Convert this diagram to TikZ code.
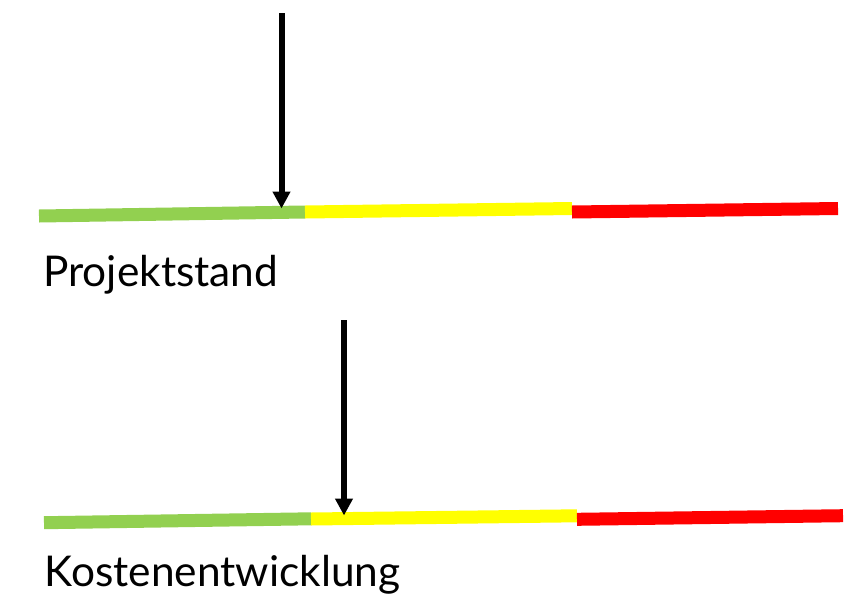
\documentclass[tikz,border=0pt]{standalone}
\usepackage{fontspec}
\setmainfont{Lato}
\usetikzlibrary{arrows.meta}
\definecolor{bargreen}{RGB}{146,208,80}
\definecolor{baryellow}{RGB}{255,255,0}
\definecolor{barred}{RGB}{255,0,0}
\tikzset{
  bar/.style={line width=13pt, line cap=butt},
  pointer/.style={line width=6pt, -{Triangle[width=17pt,length=17pt]}},
  label/.style={inner sep=0pt, anchor=base west, font=\fontsize{42.4}{50}\selectfont}
}
\begin{document}
\begin{tikzpicture}[x=1pt,y=-1pt]
\useasboundingbox (0,0) rectangle (868,595);
% top scale
\coordinate (g1a) at (39,216);  \coordinate (g1b) at (305,212);
\coordinate (y1a) at (305,212); \coordinate (y1b) at (572,208.5);
\coordinate (r1a) at (572,212); \coordinate (r1b) at (838,208.5);
\draw[bar, bargreen] (g1a) -- (g1b);
\draw[bar, baryellow] (y1a) -- (y1b);
\draw[bar, barred] (r1a) -- (r1b);
\coordinate (a1s) at (281.5,13);
\coordinate (a1e) at (281.5,208.5);
\draw[pointer] (a1s) -- (a1e);
\node[label] (t1) at (43,286.7) {Projektstand};
% bottom scale
\coordinate (g2a) at (44,522.7);  \coordinate (g2b) at (311,518.8);
\coordinate (y2a) at (311,519);   \coordinate (y2b) at (577,515.8);
\coordinate (r2a) at (577,519.3); \coordinate (r2b) at (843,515.7);
\draw[bar, bargreen] (g2a) -- (g2b);
\draw[bar, baryellow] (y2a) -- (y2b);
\draw[bar, barred] (r2a) -- (r2b);
\coordinate (a2s) at (344,320);
\coordinate (a2e) at (344,515.5);
\draw[pointer] (a2s) -- (a2e);
\node[label] (t2) at (44.5,586.7) {Kostenentwicklung};
\end{tikzpicture}
\end{document}
